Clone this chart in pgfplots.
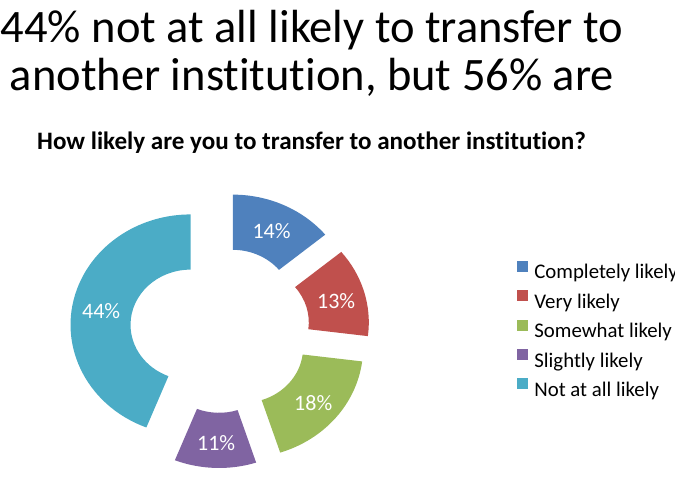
\documentclass[border=0pt]{standalone}
\usepackage{pgfplots}
\pgfplotsset{compat=1.18}
\usepackage{pgfplotstable}
\usepackage{fontspec}
\setmainfont{Carlito}[Ligatures=NoCommon]
\definecolor{cA}{HTML}{4F81BD}
\definecolor{cB}{HTML}{C0504D}
\definecolor{cC}{HTML}{9BBB59}
\definecolor{cD}{HTML}{8064A2}
\definecolor{cE}{HTML}{4BACC6}

\pgfplotstableread[col sep=comma]{
label,value,colour
Completely likely,14,cA
Very likely,13,cB
Somewhat likely,18,cC
Slightly likely,11,cD
Not at all likely,44,cE
}\donut

\begin{document}
\begin{tikzpicture}
\useasboundingbox (0,0) rectangle (675pt,496pt);
\begin{axis}[
  anchor=origin, at={(0pt,0pt)},
  x=1pt, y=1pt,
  xmin=0, xmax=675, ymin=0, ymax=496,
  hide axis, clip=false,
  legend image code/.code={\fill[#1] (0pt,3pt) rectangle (10pt,13pt); \path[draw=none,fill=none] (0pt,0pt) -- (17pt,0pt);},
  legend style={at={(axis cs:517,235.5)}, anchor=north west, draw=none, fill=none,
    font=\fontsize{20.8}{24}\selectfont, row sep=6.2pt, column sep=0pt, inner sep=0pt,
    nodes={inner sep=0pt, text height=15pt, text depth=5pt}},
  legend cell align=left,
]
\xdef\cum{0}
\pgfplotsinvokeforeach{0,...,4}{
  \pgfplotstablegetelem{#1}{value}\of\donut \let\val\pgfplotsretval
  \pgfplotstablegetelem{#1}{colour}\of\donut \let\col\pgfplotsretval
  \pgfplotstablegetelem{#1}{label}\of\donut \let\lab\pgfplotsretval
  \pgfmathsetmacro\aS{90-3.6*\cum}
  \pgfmathsetmacro\aE{90-3.6*(\cum+\val)}
  \pgfmathsetmacro\aM{(\aS+\aE)/2}
  \pgfmathsetmacro\cx{220+30*cos(\aM)}
  \pgfmathsetmacro\cy{166+27.6*sin(\aM)}
  \pgfmathsetmacro\xo{\cx+120*cos(\aS)}
  \pgfmathsetmacro\yo{\cy+110.4*sin(\aS)}
  \pgfmathsetmacro\xi{\cx+60*cos(\aE)}
  \pgfmathsetmacro\yi{\cy+55.2*sin(\aE)}
  \pgfmathsetmacro\xl{\cx+91*cos(\aM)}
  \pgfmathsetmacro\yl{\cy+84*sin(\aM)-2}
  \edef\temp{%
    \noexpand\fill[\col] (axis cs:\xo,\yo) arc[start angle=\aS, end angle=\aE, x radius=120pt, y radius=110.4pt]
      -- (axis cs:\xi,\yi) arc[start angle=\aE, end angle=\aS, x radius=60pt, y radius=55.2pt] -- cycle;
    \noexpand\node[text=white, font=\noexpand\fontsize{22}{24}\noexpand\selectfont] at (axis cs:\xl,\yl) {\val\noexpand\%};
    \noexpand\addlegendimage{\col}
    \noexpand\addlegendentry{\lab}
  }%
  \temp
  \pgfmathsetmacro\newcum{\cum+\val}
  \xdef\cum{\newcum}
}
\node[align=center, font=\fontsize{46.5}{48}\selectfont, anchor=base] at (axis cs:312,405.3)
  {44\% not at all likely to transfer to\\another institution, but 56\% are};
\node[font=\bfseries\fontsize{25.1}{27}\selectfont, anchor=base] at (axis cs:311.5,346)
  {How likely are you to transfer to another institution?};
\end{axis}
\end{tikzpicture}
\end{document}
